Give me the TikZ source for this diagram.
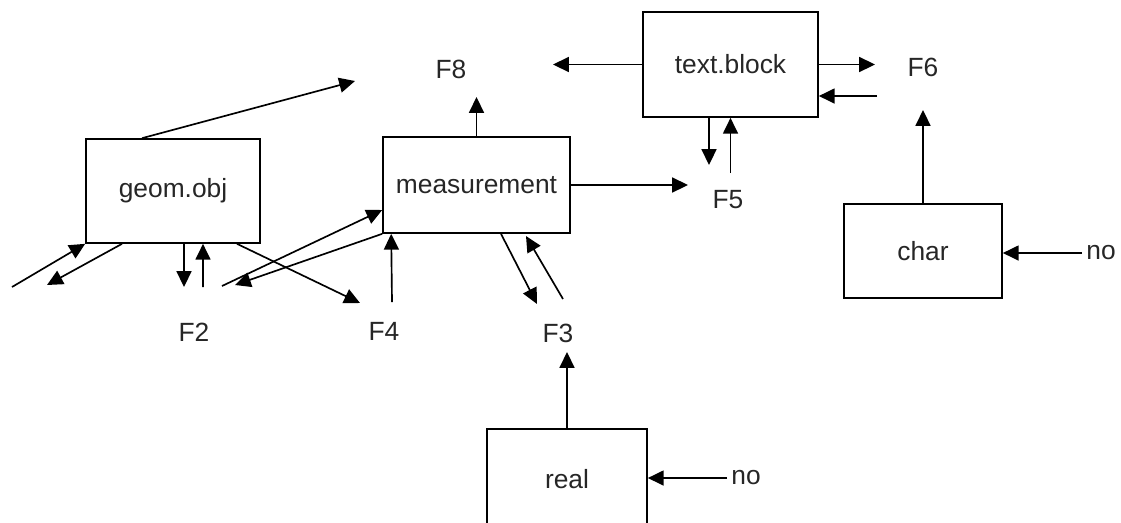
\documentclass[tikz,border=0pt]{standalone}
\usepackage{fontspec}
\setmainfont{Liberation Sans}
\usetikzlibrary{arrows.meta}

\begin{document}
\begin{tikzpicture}[x=0.02cm, y=-0.02cm, line width=0.95pt,
        >={Triangle[length=9pt,width=8.5pt]},
        every node/.style={font=\fontsize{15}{18}\selectfont, text=black!85},
        blok/.style={draw=black},
        lbl/.style={inner sep=2pt}]
    \useasboundingbox (0,0) rectangle (1121,522);
    \clip (0,0) rectangle (1121,522);

    % boxes
    \node[blok, minimum width=3.48cm, minimum height=2.08cm] (geom) at (173,191) {geom.obj};
    \node[blok, minimum width=3.74cm, minimum height=1.92cm] (meas) at (476.5,185) {measurement};
    \node[blok, minimum width=3.5cm, minimum height=2.1cm] (tblock) at (730.5,64.5) {text.block};
    \node[blok, minimum width=3.16cm, minimum height=1.88cm] (char) at (923,251) {char};
    \node[blok, minimum width=3.2cm, minimum height=2cm] (real) at (567,479) {real};

    % labels
    \node[lbl] (f8) at (451,69) {F8};
    \node[lbl] (f6) at (923,67) {F6};
    \node[lbl] (f5) at (728,200) {F5};
    \node[lbl] (f2) at (194,332) {F2};
    \node[lbl] (f4) at (384,331) {F4};
    \node[lbl] (f3) at (558,333) {F3};
    \node[lbl] (no1) at (1101,253) {no};
    \node[lbl] (no2) at (746,478) {no};

    % free ends
    \coordinate (g-up) at (355,81);
    \coordinate (g-in) at (12,287);
    \coordinate (g-out) at (47,285);
    \coordinate (f2-in) at (184,287);
    \coordinate (f2-out) at (203,287);
    \coordinate (f4-in) at (360,303);
    \coordinate (f4-out) at (392,302);
    \coordinate (m-in) at (222,286);
    \coordinate (m-out) at (235,285);
    \coordinate (f3-in) at (537,304);
    \coordinate (f3-out) at (563,299);
    \coordinate (m-back) at (526,236);
    \coordinate (f3-up) at (567,352);
    \coordinate (f8-in) at (476.5,97);
    \coordinate (f5-in) at (688,185);
    \coordinate (f8-tb) at (553,64.5);
    \coordinate (f6-in) at (875,64.5);
    \coordinate (f6-out) at (877,96);
    \coordinate (f5-tb) at (709,165);
    \coordinate (f5-out) at (730.5,173);
    \coordinate (f6-up) at (923,110);

    % geom.obj
    \draw[->] ([xshift=-0.62cm]geom.north) -- (g-up);
    \draw[->] (g-in) -- (geom.south west);
    \draw[->] ([xshift=-1.02cm]geom.south) -- (g-out);
    \draw[->] ([xshift=0.22cm]geom.south) -- (f2-in);
    \draw[->] (f2-out) -- ([xshift=0.6cm]geom.south);
    \draw[->] ([xshift=1.28cm]geom.south) -- (f4-in);

    % measurement
    \draw[->] (m-in) -- ([yshift=-0.5cm]meas.west);
    \draw[->] (meas.south west) -- (m-out);
    \draw[->] (f4-out) -- ([xshift=0.18cm]meas.south west);
    \draw[->] ([xshift=0.49cm]meas.south) -- (f3-in);
    \draw[->] (f3-out) -- (m-back);
    \draw[->] (meas.north) -- (f8-in);
    \draw[->] (meas.east) -- (f5-in);
    \draw[->] (real.north) -- (f3-up);

    % text.block
    \draw[->] (tblock.west) -- (f8-tb);
    \draw[->] (tblock.east) -- (f6-in);
    \draw[->] (f6-out) -- (tblock.east |- f6-out);
    \draw[->] ([xshift=-0.43cm]tblock.south) -- (f5-tb);
    \draw[->] (f5-out) -- (tblock.south);

    % char, real
    \draw[->] (char.north) -- (f6-up);
    \draw[->] (no1.west) -- (no1.west -| char.east);
    \draw[->] (no2.west) -- (no2.west -| real.east);
\end{tikzpicture}
\end{document}
